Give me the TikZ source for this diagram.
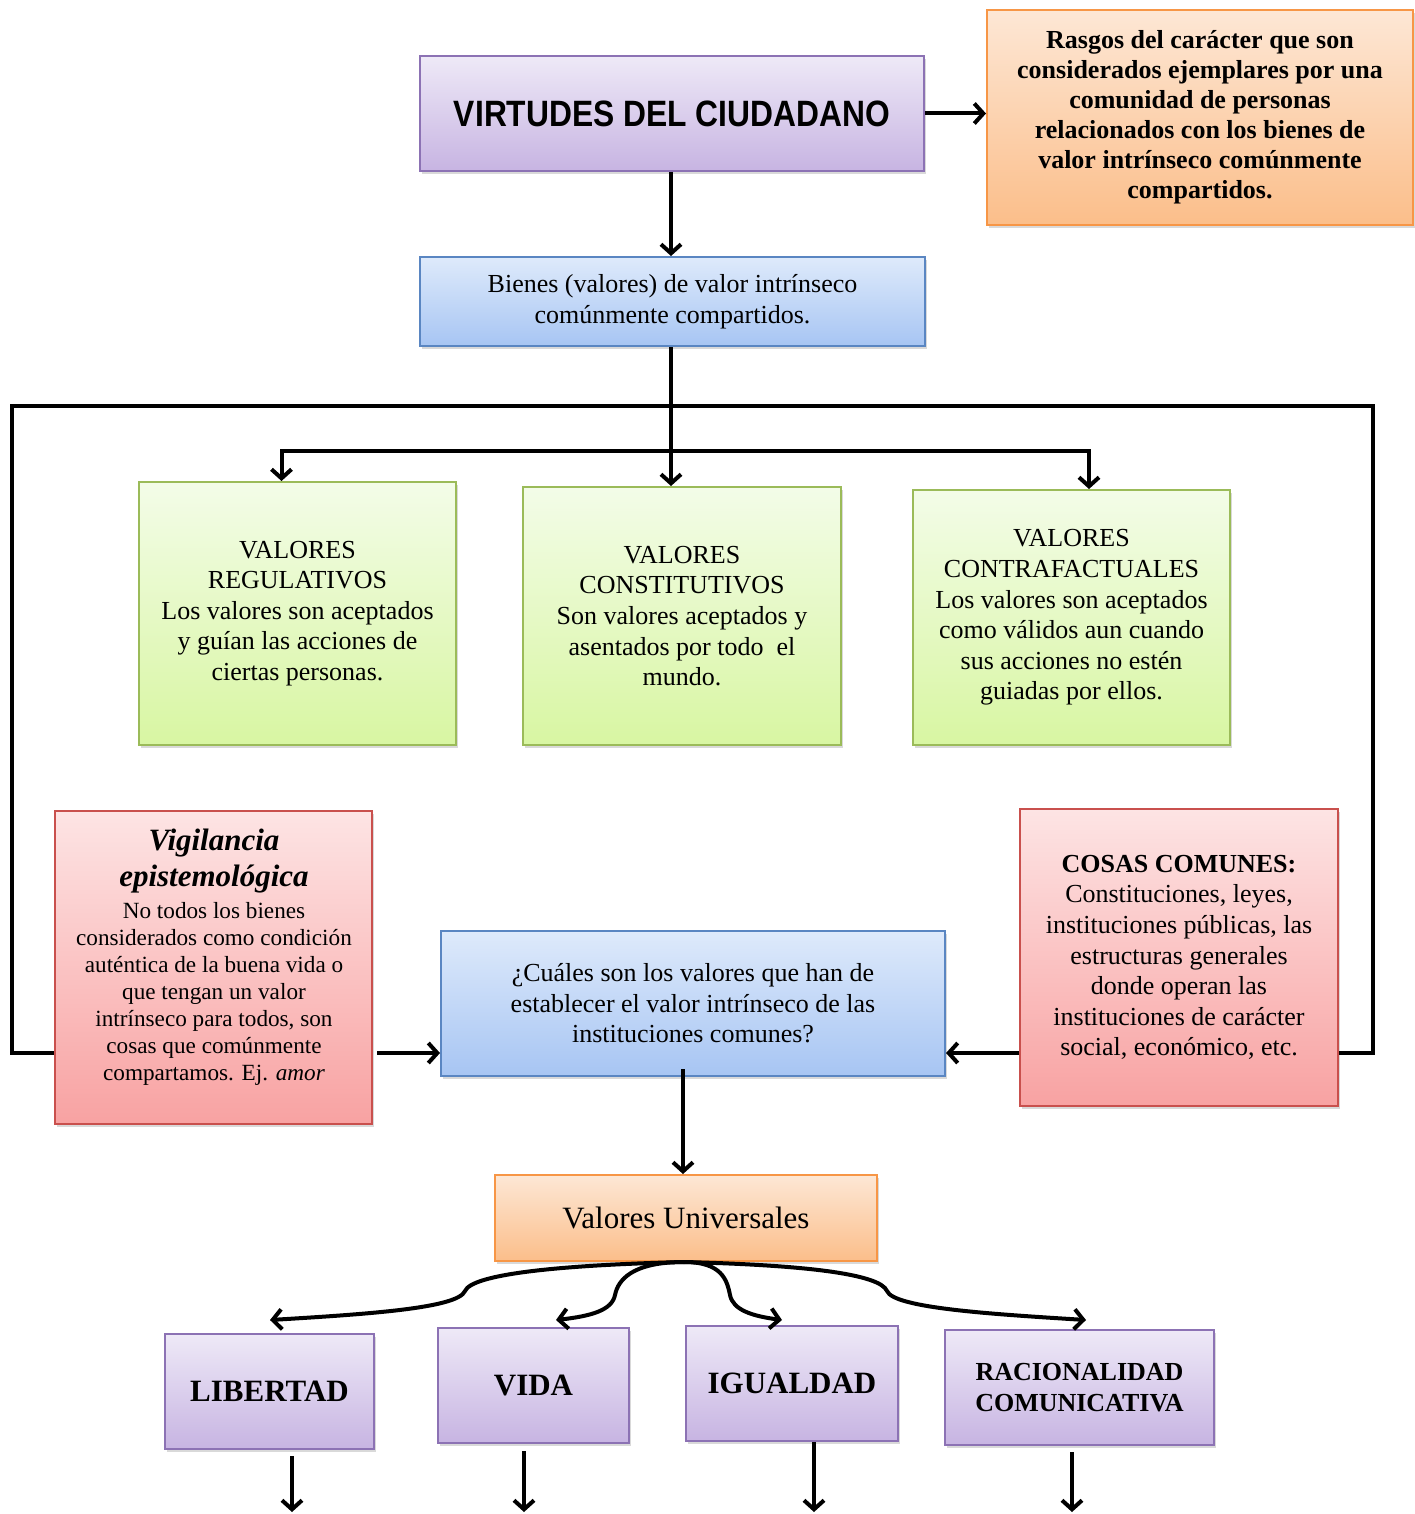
\documentclass[tikz,border=0pt]{standalone}
\usepackage{fontspec}
\setmainfont{Liberation Serif}
\newfontfamily\headfont{Liberation Sans}
\usetikzlibrary{arrows.meta,calc,shadows}

\definecolor{purT}{HTML}{EEE9F7}
\definecolor{purB}{HTML}{C7B4E2}
\definecolor{purD}{HTML}{8C72B4}
\definecolor{bluT}{HTML}{DEEAFB}
\definecolor{bluB}{HTML}{A7C5F3}
\definecolor{bluD}{HTML}{5A86C2}
\definecolor{grnT}{HTML}{F3FCE8}
\definecolor{grnB}{HTML}{D8F6A2}
\definecolor{grnD}{HTML}{9BBB59}
\definecolor{redT}{HTML}{FDE4E4}
\definecolor{redB}{HTML}{F8A2A2}
\definecolor{redD}{HTML}{C9504D}
\definecolor{orgT}{HTML}{FDE7D5}
\definecolor{orgB}{HTML}{FBBE8A}
\definecolor{orgD}{HTML}{F79646}

\begin{document}
\begin{tikzpicture}[x=0.5pt,y=-0.5pt,
  box/.style={draw, line width=1pt, align=center, inner sep=0pt,
    drop shadow={shadow xshift=1.2pt, shadow yshift=-1.5pt, opacity=0.3}},
  purbox/.style={box, draw=purD, top color=purT, bottom color=purB},
  blubox/.style={box, draw=bluD, top color=bluT, bottom color=bluB},
  grnbox/.style={box, draw=grnD, top color=grnT, bottom color=grnB},
  redbox/.style={box, draw=redD, top color=redT, bottom color=redB},
  orgbox/.style={box, draw=orgD, top color=orgT, bottom color=orgB},
  body/.style={font=\fontsize{13}{15.3}\selectfont},
  wire/.style={line width=2pt},
  arr/.style={wire, -{Straight Barb[length=4.5pt,width=10pt]}},
]
\useasboundingbox (0,0) rectangle (1414,1514);

% ---- top row
\node[purbox, minimum width=252pt, minimum height=57.5pt] (title) at (672,113.5)
  {\resizebox{218pt}{12.8pt}{\headfont\bfseries VIRTUDES DEL CIUDADANO}};
\node[orgbox, minimum width=213pt, minimum height=107.5pt,
  font=\bfseries\fontsize{13}{15}\selectfont] (rasgos) at (1200,117.5)
  {\raisebox{-3pt}{}Rasgos del carácter que son\\considerados ejemplares por una\\comunidad de personas\\relacionados con los bienes de\\valor intrínseco comúnmente\\compartidos.};
\node[blubox, body, minimum width=252.5pt, minimum height=44.5pt] (bienes) at (672.5,301.5)
  {\raisebox{-3pt}{}Bienes (valores) de valor intrínseco\\comúnmente compartidos.};

% ---- three kinds of values
\node[grnbox, body, minimum width=158.5pt, minimum height=131.5pt] (reg) at (297.5,613.5)
  {VALORES\\REGULATIVOS\\Los valores son aceptados\\y guían las acciones de\\ciertas personas.};
\node[grnbox, body, minimum width=159pt, minimum height=129pt] (cons) at (682,616)
  {VALORES\\CONSTITUTIVOS\\Son valores aceptados y\\asentados por todo\ \ el\\mundo.};
\node[grnbox, body, minimum width=158.5pt, minimum height=127.5pt] (contra) at (1071.5,617.5)
  {VALORES\\CONTRAFACTUALES\\Los valores son aceptados\\como válidos aun cuando\\sus acciones no estén\\guiadas por ellos.};

% ---- middle row
\node[redbox, minimum width=158.5pt, minimum height=156.5pt] (vig) at (213.5,967.5) {};
\node[anchor=north, inner sep=0pt] (vigtxt) at (214,829)
  {\begin{minipage}{156pt}\centering
   {\bfseries\itshape\fontsize{15.5}{18}\selectfont Vigilancia\\epistemológica\par}
   \vspace{2.5pt}
   \fontsize{11.6}{13.5}\selectfont No todos los bienes\\considerados como condición\\auténtica de la buena vida o\\que tengan un valor\\intrínseco para todos, son\\cosas que comúnmente\\compartamos. Ej. \textit{amor}\par
   \end{minipage}};
\node[blubox, body, minimum width=252pt, minimum height=72.5pt] (q) at (693,1003.5)
  {¿Cuáles son los valores que han de\\establecer el valor intrínseco de las\\instituciones comunes?};
\node[redbox, body, minimum width=159pt, minimum height=148.5pt] (cosas) at (1179,957.5)
  {\raisebox{-3pt}{}\textbf{COSAS COMUNES:}\\Constituciones, leyes,\\instituciones públicas, las\\estructuras generales\\donde operan las\\instituciones de carácter\\social, económico, etc.};

% ---- universal values
\node[orgbox, minimum width=191pt, minimum height=43pt, font=\fontsize{15.5}{18}\selectfont] (vu) at (686,1218)
  {Valores Universales};
\node[purbox, minimum width=104.5pt, minimum height=57.5pt, font=\bfseries\fontsize{15.5}{18}\selectfont] (lib) at (269.5,1391.5) {LIBERTAD};
\node[purbox, minimum width=95.5pt, minimum height=57.5pt, font=\bfseries\fontsize{15.5}{18}\selectfont] (vida) at (533.5,1385.5) {VIDA};
\node[purbox, minimum width=106pt, minimum height=57.5pt, font=\bfseries\fontsize{15.5}{18}\selectfont] (igu) at (792,1383.5) {IGUALDAD};
\node[purbox, minimum width=134.5pt, minimum height=57.5pt, font=\bfseries\fontsize{13}{15.5}\selectfont] (rac) at (1079.5,1387.5) {RACIONALIDAD\\COMUNICATIVA};

% ---- helper points
\coordinate (split) at (671,451);
\coordinate (ftl) at (12,406);
\coordinate (ftr) at (1373,406);
\coordinate (fl) at (12,1053);
\coordinate (fr) at (1373,1053);
\coordinate (qx) at (683,1100);
\coordinate (tlib) at (270,1320);
\coordinate (tvid) at (556,1320);
\coordinate (tigu) at (782,1320);
\coordinate (trac) at (1086,1320);
\coordinate (olib) at (292,1512);
\coordinate (ovid) at (524,1512);
\coordinate (oigu) at (814,1512);
\coordinate (orac) at (1072,1512);

% ---- connectors
\draw[arr] (title.east) -- (title.east -| rasgos.west);
\draw[arr] ([xshift=-0.5pt]title.south) -- ([xshift=-0.5pt]title.south |- bienes.north);
\draw[arr] ([xshift=-0.75pt]bienes.south) -- ([xshift=-0.75pt]bienes.south |- cons.north);
\draw[wire] ($(reg.north)+(-16,-30)$) |- (split) -| ($(contra.north)+(17.5,-38)$);
\draw[arr] ($(reg.north)+(-16,-32)$) -- ($(reg.north)+(-16,0)$);
\draw[arr] ($(contra.north)+(17.5,-40)$) -- ($(contra.north)+(17.5,0)$);
\draw[wire, line join=miter] (vig.west |- fl) -- (fl) -- (ftl) -- (ftr) -- (fr) -- (cosas.east |- fr);
\draw[arr, shorten <=2pt] (vig.east |- fl) -- (q.west |- fl);
\draw[arr] (cosas.west |- fr) -- (q.east |- fr);
\draw[arr] ([yshift=4pt]q.south -| qx) -- (vu.north -| qx);

% curved branches to the four values
\draw[arr] ([xshift=-1pt]vu.south) .. controls (560,1265) and (472,1274) .. (465,1291)
  .. controls (458,1308) and (370,1314) .. (tlib);
\draw[arr] ([xshift=-1pt]vu.south) .. controls (632,1262) and (618,1280) .. (615,1295)
  .. controls (612,1310) and (592,1316) .. (tvid);
\draw[arr] ([xshift=-1pt]vu.south) .. controls (722,1262) and (727,1280) .. (730,1295)
  .. controls (733,1310) and (752,1316) .. (tigu);
\draw[arr] ([xshift=-1pt]vu.south) .. controls (805,1265) and (880,1274) .. (887,1291)
  .. controls (894,1308) and (990,1314) .. (trac);

% outputs below the four values
\draw[arr, shorten <=3pt] (lib.south -| olib) -- (olib);
\draw[arr, shorten <=3.5pt] (vida.south -| ovid) -- (ovid);
\draw[arr] (igu.south -| oigu) -- (oigu);
\draw[arr, shorten <=3pt] (rac.south -| orac) -- (orac);
\end{tikzpicture}
\end{document}
